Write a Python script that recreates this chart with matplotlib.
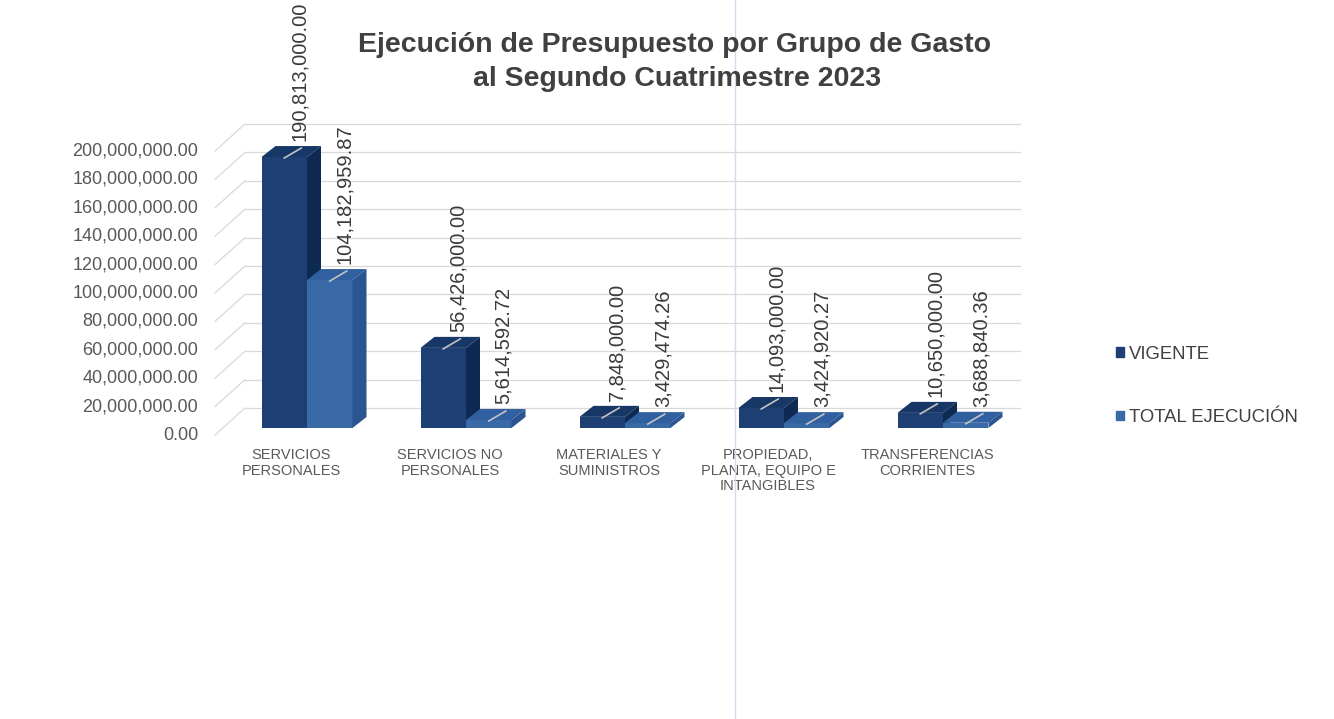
import matplotlib
matplotlib.use("Agg")
import matplotlib.pyplot as plt
from matplotlib.patches import Polygon, Patch
from matplotlib.lines import Line2D
import numpy as np

WIDTH = 1334
HEIGHT = 719
DPI = 100

plt.rcParams['font.family'] = ['Liberation Sans', 'DejaVu Sans']

# data
categories = ["SERVICIOS\nPERSONALES", "SERVICIOS NO\nPERSONALES", "MATERIALES Y\nSUMINISTROS",
              "PROPIEDAD,\nPLANTA, EQUIPO E\nINTANGIBLES", "TRANSFERENCIAS\nCORRIENTES"]
vigente = [190813000.00, 56426000.00, 7848000.00, 14093000.00, 10650000.00]
ejecucion = [104182959.87, 5614592.72, 3429474.26, 3424920.27, 3688840.36]
series_names = ["VIGENTE", "TOTAL EJECUCIÓN"]
y_ticks = [0, 20e6, 40e6, 60e6, 80e6, 100e6, 120e6, 140e6, 160e6, 180e6, 200e6]

# layout (pixels)
AX_LEFT, AX_RIGHT = 215, 1020
AX_ZERO, AX_TOP = 428, 144
GROUP0, STEP = 307, 159
BAR_W = 45.5

# colours: front, top, side
COLORS = {
    "VIGENTE": ("#1d3f73", "#173766", "#0f2a52"),
    "TOTAL": ("#3a69a8", "#3160a0", "#2a5590"),
}


def main():
    fig = plt.figure(figsize=(WIDTH / DPI, HEIGHT / DPI), dpi=DPI)
    ax = fig.add_axes([AX_LEFT / WIDTH, 1 - AX_ZERO / HEIGHT,
                       (AX_RIGHT - AX_LEFT) / WIDTH, (AX_ZERO - AX_TOP) / HEIGHT])
    ax.set_xlim((AX_LEFT - GROUP0) / STEP, (AX_RIGHT - GROUP0) / STEP)
    ax.set_ylim(0, 200e6)
    ax.axis('off')

    px_x = 1.0 / STEP
    px_y = 200e6 / (AX_ZERO - AX_TOP)
    xmin, xmax = ax.get_xlim()
    x_back = (245 - GROUP0) / STEP

    # walls / gridlines
    for v in y_ticks:
        yb = v + 20 * px_y
        ax.plot([x_back, xmax], [yb, yb], color='#d9d9d9', lw=0.9, clip_on=False, zorder=1)
        ax.plot([xmin, x_back], [v - 7 * px_y, yb], color='#d9d9d9', lw=0.9, clip_on=False, zorder=1)
        ax.text((198 - GROUP0) / STEP, v - 7 * px_y, f"{v:,.2f}", ha='right', va='center',
                fontsize=13, color='#595959', clip_on=False)

    x = np.arange(len(categories))
    w = BAR_W / STEP
    ddx, ddy = 14 * px_x, 11 * px_y

    for vals, offs, key, z in [(vigente, -w / 2, "VIGENTE", 3), (ejecucion, w / 2, "TOTAL", 4)]:
        front, top, side = COLORS[key]
        ax.bar(x + offs, vals, w, color=front, linewidth=0, zorder=z)
        for xc, h in zip(x + offs, vals):
            x0, x1 = xc - w / 2, xc + w / 2
            ax.add_patch(Polygon([(x0, h), (x1, h), (x1 + ddx, h + ddy), (x0 + ddx, h + ddy)],
                                 closed=True, color=top, lw=0, zorder=z, clip_on=False))
            ax.add_patch(Polygon([(x1, 0), (x1, h), (x1 + ddx, h + ddy), (x1 + ddx, ddy)],
                                 closed=True, color=side, lw=0, zorder=z, clip_on=False))
            ax.plot([xc, xc + 17 * px_x], [h - 1 * px_y, h + 9 * px_y], color='#c4c4c4',
                    lw=1.2, zorder=6, clip_on=False)
            ax.text(xc + 15 * px_x, h + 16 * px_y, f"{h:,.2f}", rotation=90, ha='center',
                    va='bottom', fontsize=14.5, color='#3a3a3a', clip_on=False, zorder=7)

    for i, cat in enumerate(categories):
        ax.text(i - 16 * px_x, -20 * px_y, cat, ha='center', va='top', multialignment='center',
                fontsize=10.5, color='#595959', linespacing=1.15, clip_on=False)

    fig.text(675 / WIDTH, 1 - 45 / HEIGHT, "Ejecución de Presupuesto por Grupo de Gasto",
             ha='center', va='center', fontsize=20.5, weight='bold', color='#404040')
    fig.text(677 / WIDTH, 1 - 79 / HEIGHT, "al Segundo Cuatrimestre 2023",
             ha='center', va='center', fontsize=20.5, weight='bold', color='#404040')

    handles = [Patch(color=COLORS["VIGENTE"][0]), Patch(color=COLORS["TOTAL"][0])]
    fig.legend(handles, series_names, loc='center left', bbox_to_anchor=(1099 / WIDTH, 1 - 386 / HEIGHT),
               frameon=False, fontsize=13.3, labelspacing=2.5, handlelength=0.45, handleheight=0.45,
               handletextpad=0.25, labelcolor='#404040')

    # scan fold line
    fig.add_artist(Line2D([735 / WIDTH] * 2, [0, 1], color='#dcd6ef', lw=1, transform=fig.transFigure))

    fig.savefig("out.png", dpi=DPI, facecolor='white')
    plt.close(fig)


if __name__ == "__main__":
    main()
